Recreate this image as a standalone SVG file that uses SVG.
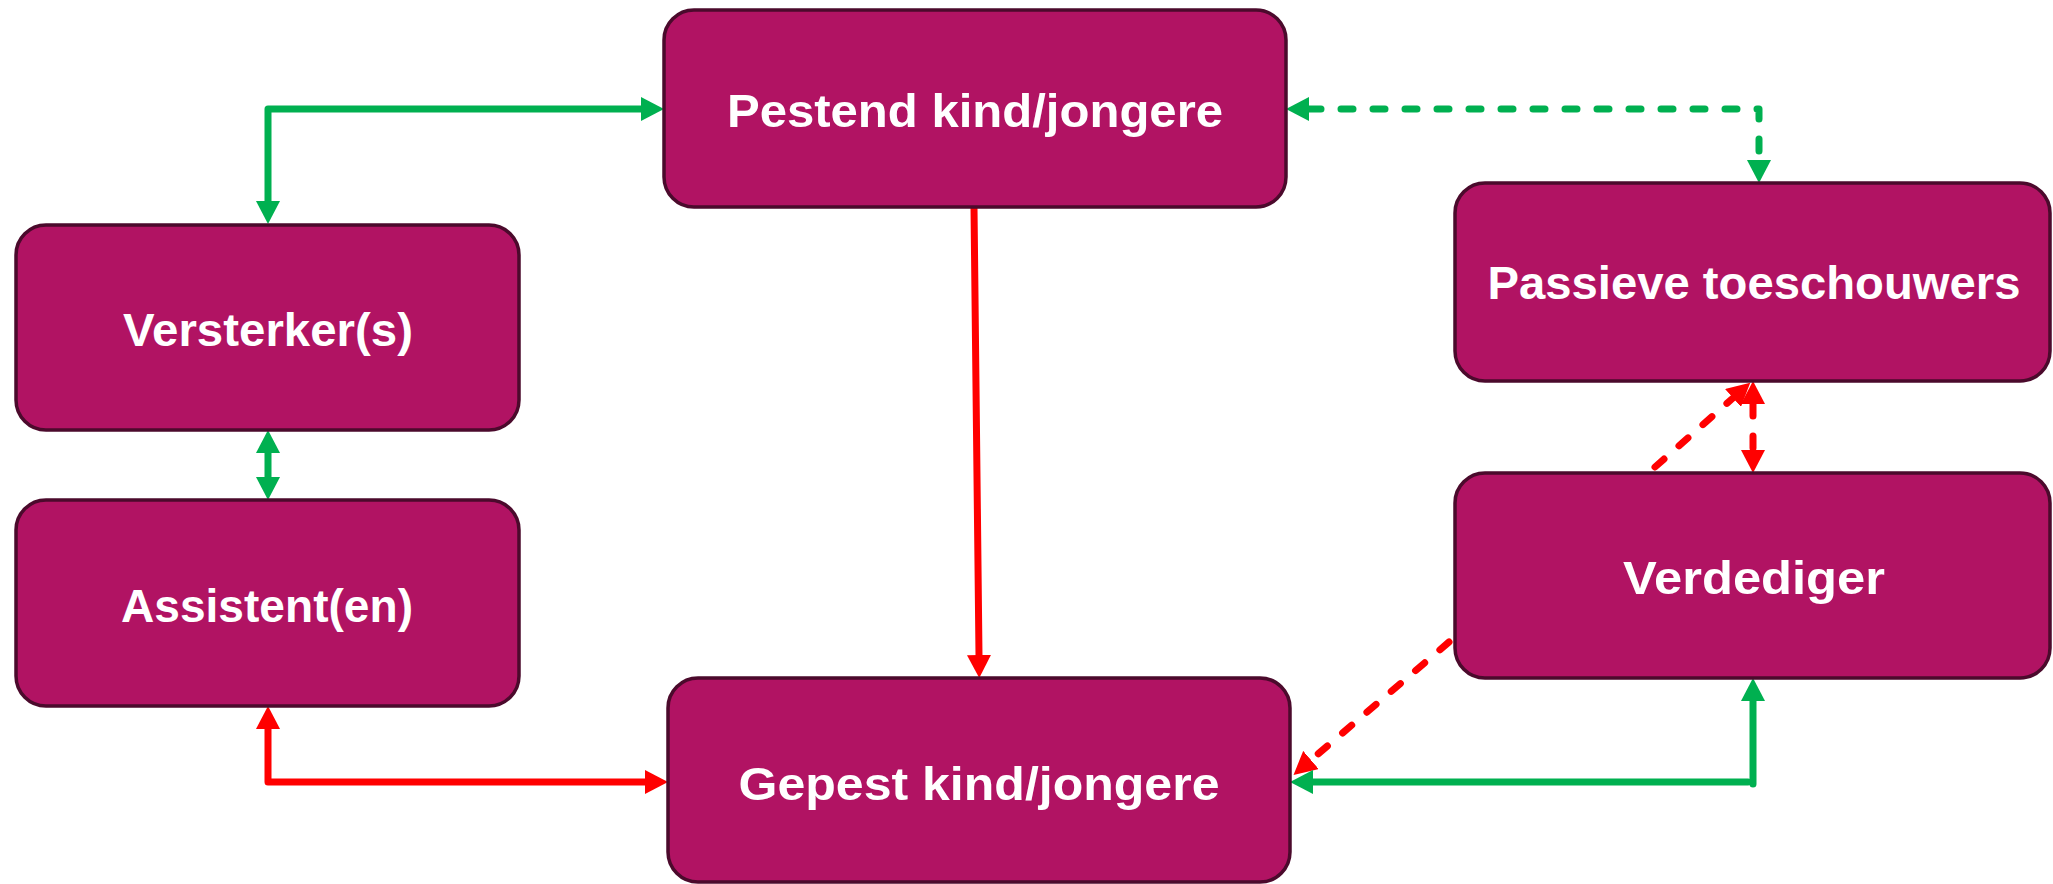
<svg xmlns="http://www.w3.org/2000/svg" width="2053" height="884" viewBox="0 0 2053 884">
<style>
.box{fill:#B11363;stroke:#4B0A2C;stroke-width:3.5}
.lbl{font-family:"Liberation Sans",Arial,sans-serif;font-weight:bold;font-size:47px;fill:#FFFFFF;text-anchor:middle}
.g{stroke:#00B050;stroke-width:7;fill:none;stroke-linecap:round;stroke-linejoin:round}
.r{stroke:#FF0000;stroke-width:7;fill:none;stroke-linecap:round;stroke-linejoin:round}
.d{stroke-dasharray:12 20}
</style>
<defs>
<marker id="ag" viewBox="0 0 23 24" refX="0" refY="12" markerWidth="23" markerHeight="24" markerUnits="userSpaceOnUse" orient="auto-start-reverse"><path d="M0,0 L23,12 L0,24 Z" fill="#00B050"/></marker>
<marker id="ar" viewBox="0 0 23 24" refX="0" refY="12" markerWidth="23" markerHeight="24" markerUnits="userSpaceOnUse" orient="auto-start-reverse"><path d="M0,0 L23,12 L0,24 Z" fill="#FF0000"/></marker>
</defs>
<g id="connectors">
<path class="g" d="M641,109 L268,109 L268,201" marker-start="url(#ag)" marker-end="url(#ag)"/>
<path class="g" d="M268,453 L268,477" marker-start="url(#ag)" marker-end="url(#ag)" stroke-linecap="butt"/>
<path class="r" d="M268,729 L268,782 L645,782" marker-start="url(#ar)" marker-end="url(#ar)"/>
<path class="r" d="M974,207 L979,655" marker-end="url(#ar)" stroke-linecap="butt"/>
<path class="g d" d="M1309,109 L1759,109 L1759,160" marker-start="url(#ag)" marker-end="url(#ag)"/>
<path class="r d" d="M1753,404 L1753,450" marker-start="url(#ar)" marker-end="url(#ar)"/>
<path class="r d" d="M1655,467 L1733,398" marker-end="url(#ar)"/>
<path class="r d" d="M1449,642 L1311,760" marker-end="url(#ar)"/>
<path class="g" d="M1748,782 L1313,782" marker-end="url(#ag)"/>
<path class="g" d="M1753,784 L1753,701" marker-end="url(#ag)"/>
</g>
<g id="pestend">
<rect class="box" x="664" y="10" width="622" height="197" rx="30"/>
<text class="lbl" x="975" y="127" textLength="496" lengthAdjust="spacingAndGlyphs">Pestend kind/jongere</text>
</g>
<g id="versterker">
<rect class="box" x="16" y="225" width="503" height="205" rx="30"/>
<text class="lbl" x="268" y="346" textLength="290" lengthAdjust="spacingAndGlyphs">Versterker(s)</text>
</g>
<g id="assistent">
<rect class="box" x="16" y="500" width="503" height="206" rx="30"/>
<text class="lbl" x="267" y="622" textLength="292" lengthAdjust="spacingAndGlyphs">Assistent(en)</text>
</g>
<g id="gepest">
<rect class="box" x="668" y="678" width="622" height="204" rx="30"/>
<text class="lbl" x="979" y="800" textLength="481" lengthAdjust="spacingAndGlyphs">Gepest kind/jongere</text>
</g>
<g id="passieve">
<rect class="box" x="1455" y="183" width="595" height="198" rx="30"/>
<text class="lbl" x="1754" y="299" textLength="533" lengthAdjust="spacingAndGlyphs">Passieve toeschouwers</text>
</g>
<g id="verdediger">
<rect class="box" x="1455" y="473" width="595" height="205" rx="30"/>
<text class="lbl" x="1754" y="594" textLength="262" lengthAdjust="spacingAndGlyphs">Verdediger</text>
</g>
</svg>
